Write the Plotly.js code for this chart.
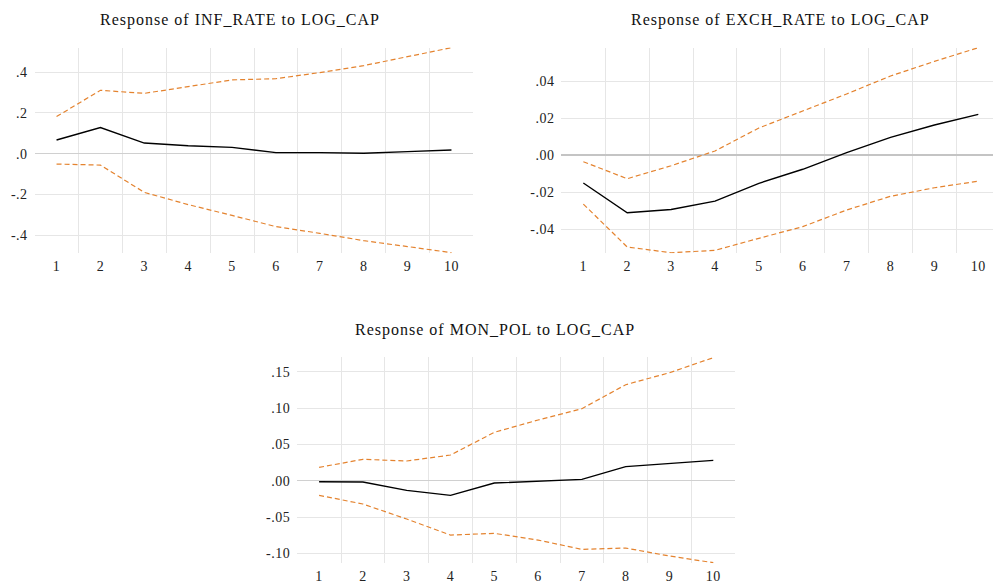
<!DOCTYPE html>
<html>
<head>
<meta charset="utf-8">
<script src="https://cdn.plot.ly/plotly-3.0.1.min.js"></script>
<style>
html,body{margin:0;padding:0;background:#fff;overflow:hidden}
.annotation-text{letter-spacing:1px}
.xtick text,.ytick text,.x2tick text,.y2tick text,.x3tick text,.y3tick text{letter-spacing:0.5px}
</style>
</head>
<body>
<div id="chart" style="width:993px;height:583px"></div>
<script>
// Periods
var periods = [1,2,3,4,5,6,7,8,9,10];

// Response of INF_RATE to LOG_CAP
var infResp  = [0.067, 0.128, 0.052, 0.039, 0.031, 0.005, 0.005, 0.002, 0.010, 0.018];
var infUpper = [0.182, 0.311, 0.296, 0.329, 0.362, 0.368, 0.398, 0.432, 0.476, 0.520];
var infLower = [-0.051, -0.056, -0.190, -0.250, -0.303, -0.358, -0.391, -0.427, -0.456, -0.486];

// Response of EXCH_RATE to LOG_CAP
var exchResp  = [-0.0151, -0.0312, -0.0294, -0.0249, -0.0153, -0.0077, 0.0013, 0.0095, 0.0162, 0.0220];
var exchUpper = [-0.0036, -0.0128, -0.0058, 0.0022, 0.0146, 0.0236, 0.0330, 0.0427, 0.0506, 0.0580];
var exchLower = [-0.0265, -0.0497, -0.0528, -0.0515, -0.0450, -0.0387, -0.0297, -0.0223, -0.0177, -0.0141];

// Response of MON_POL to LOG_CAP
var monResp  = [-0.0014, -0.0018, -0.0133, -0.0202, -0.0032, -0.0005, 0.0018, 0.0193, 0.0234, 0.0280];
var monUpper = [0.0183, 0.0294, 0.0271, 0.0353, 0.0665, 0.0835, 0.0991, 0.1321, 0.1486, 0.1693];
var monLower = [-0.0202, -0.0321, -0.0528, -0.0748, -0.0725, -0.0817, -0.0945, -0.0927, -0.1037, -0.1128];

// Titles
var titles = ["Response of INF_RATE to LOG_CAP", "Response of EXCH_RATE to LOG_CAP", "Response of MON_POL to LOG_CAP"];

// Tick labels
var infTickVals  = [-0.4, -0.2, 0, 0.2, 0.4];
var infTickText  = ["-.4", "-.2", ".0", ".2", ".4"];
var exchTickVals = [-0.04, -0.02, 0, 0.02, 0.04];
var exchTickText = ["-.04", "-.02", ".00", ".02", ".04"];
var monTickVals  = [-0.10, -0.05, 0, 0.05, 0.10, 0.15];
var monTickText  = ["-.10", "-.05", ".00", ".05", ".10", ".15"];
var xGridVals = [1.5,2.5,3.5,4.5,5.5,6.5,7.5,8.5,9.5];

var W = 993, H = 583;
var ORANGE = '#E4832F';
var fontFam = '"Liberation Serif", "Times New Roman", serif';

function traces(xa, ya, resp, up, lo) {
  var dash = {color: ORANGE, width: 1.2, dash: '5px,3px'};
  return [
    {x: periods, y: up, xaxis: xa, yaxis: ya, mode: 'lines', line: dash, hoverinfo: 'skip'},
    {x: periods, y: lo, xaxis: xa, yaxis: ya, mode: 'lines', line: dash, hoverinfo: 'skip'},
    {x: periods, y: resp, xaxis: xa, yaxis: ya, mode: 'lines', line: {color: '#000', width: 1.4}}
  ];
}

var data = [].concat(
  traces('x', 'y', infResp, infUpper, infLower),
  traces('x2', 'y2', exchResp, exchUpper, exchLower),
  traces('x3', 'y3', monResp, monUpper, monLower)
);

function xAxis(dom, rng, anchor) {
  return {
    domain: dom, range: rng, anchor: anchor,
    tickvals: periods, ticktext: periods.map(String),
    showgrid: false, zeroline: false, showline: false, ticks: '',
    ticklabelstandoff: 3,
    tickfont: {family: fontFam, size: 14, color: '#222'},
    minor: {tickvals: xGridVals, showgrid: true, gridcolor: '#e6e6e6', gridwidth: 1, ticks: ''},
    fixedrange: true
  };
}
function yAxis(dom, rng, anchor, tv, tt, zc) {
  return {
    domain: dom, range: rng, anchor: anchor,
    tickvals: tv, ticktext: tt,
    showgrid: true, gridcolor: '#e6e6e6', gridwidth: 1,
    zeroline: true, zerolinecolor: zc, zerolinewidth: 1.6,
    showline: false, ticks: '', ticklabelstandoff: 6,
    tickfont: {family: fontFam, size: 14, color: '#222'},
    fixedrange: true
  };
}

var layout = {
  width: W, height: H,
  margin: {l: 0, r: 0, t: 0, b: 0},
  paper_bgcolor: '#fff', plot_bgcolor: '#fff',
  showlegend: false,
  xaxis:  xAxis([34.6/W, 473.4/W], [0.5, 10.5], 'y'),
  yaxis:  yAxis([1-253.3/H, 1-47.5/H], [-0.489, 0.521], 'x', infTickVals, infTickText, '#d0d0d0'),
  xaxis2: xAxis([561.4/W, 1], [0.5, 10.335], 'y2'),
  yaxis2: yAxis([1-253.3/H, 1-47.5/H], [-0.0531, 0.0581], 'x2', exchTickVals, exchTickText, '#c4c4c4'),
  xaxis3: xAxis([297.2/W, 735.2/W], [0.5, 10.5], 'y3'),
  yaxis3: yAxis([1-563.3/H, 1-357.3/H], [-0.1137, 0.1698], 'x3', monTickVals, monTickText, '#d0d0d0'),
  annotations: [
    {text: titles[0], x: 239.5/W, y: 1-20/H},
    {text: titles[1], x: 780/W, y: 1-20/H},
    {text: titles[2], x: 495/W, y: 1-330/H}
  ].map(function(a){
    return Object.assign({xref: 'paper', yref: 'paper', showarrow: false,
      xanchor: 'center', yanchor: 'middle',
      font: {family: fontFam, size: 16, color: '#111'}}, a);
  })
};

Plotly.newPlot('chart', data, layout, {displayModeBar: false, staticPlot: true});
</script>
</body>
</html>
